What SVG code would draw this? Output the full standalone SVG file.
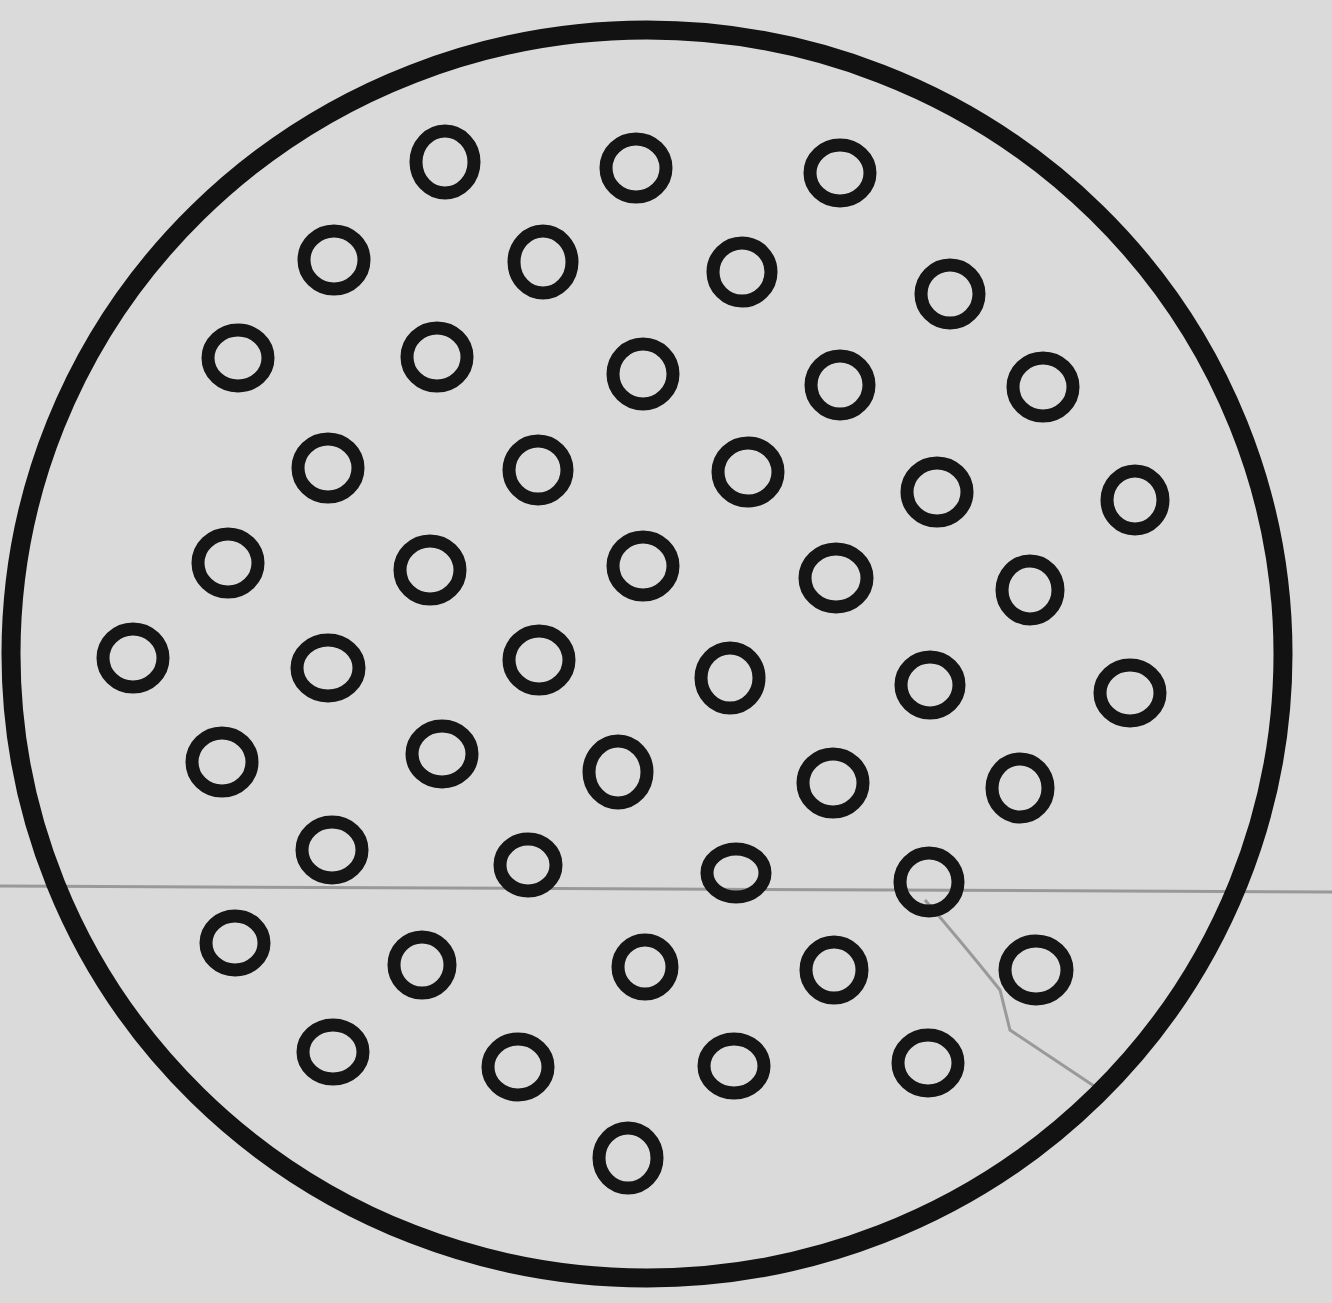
<svg xmlns="http://www.w3.org/2000/svg" width="1332" height="1303" viewBox="0 0 1332 1303">
<style>
.r{fill:none;stroke:#151515;stroke-width:13}
.big{fill:none;stroke:#121212;stroke-width:19}
.fold{fill:none;stroke:#6e6e6e;stroke-width:3;opacity:0.6}
</style>
<rect width="1332" height="1303" fill="#dadada"/>
<path class="fold" d="M0 886 L1332 892"/>
<path class="fold" d="M925 900 Q960 940 1000 990 L1010 1030 L1100 1090" stroke-width="2"/>
<ellipse class="big" cx="647" cy="654" rx="636" ry="624"/>
<g id="rings">
<ellipse class="r" cx="445" cy="162" rx="29" ry="31"/>
<ellipse class="r" cx="636" cy="168" rx="30" ry="29"/>
<ellipse class="r" cx="840" cy="173" rx="30" ry="28"/>
<ellipse class="r" cx="334" cy="260" rx="30" ry="29"/>
<ellipse class="r" cx="543" cy="262" rx="29" ry="31"/>
<ellipse class="r" cx="742" cy="272" rx="29" ry="29"/>
<ellipse class="r" cx="950" cy="294" rx="29" ry="29"/>
<ellipse class="r" cx="238" cy="358" rx="30" ry="28"/>
<ellipse class="r" cx="437" cy="357" rx="30" ry="29"/>
<ellipse class="r" cx="643" cy="374" rx="30" ry="30"/>
<ellipse class="r" cx="840" cy="385" rx="29" ry="29"/>
<ellipse class="r" cx="1043" cy="387" rx="30" ry="29"/>
<ellipse class="r" cx="328" cy="468" rx="30" ry="29"/>
<ellipse class="r" cx="538" cy="470" rx="29" ry="29"/>
<ellipse class="r" cx="748" cy="472" rx="30" ry="29"/>
<ellipse class="r" cx="937" cy="492" rx="30" ry="29"/>
<ellipse class="r" cx="1135" cy="500" rx="28" ry="29"/>
<ellipse class="r" cx="228" cy="563" rx="30" ry="29"/>
<ellipse class="r" cx="430" cy="570" rx="30" ry="29"/>
<ellipse class="r" cx="643" cy="566" rx="30" ry="29"/>
<ellipse class="r" cx="836" cy="578" rx="31" ry="29"/>
<ellipse class="r" cx="1030" cy="590" rx="28" ry="29"/>
<ellipse class="r" cx="133" cy="658" rx="30" ry="29"/>
<ellipse class="r" cx="328" cy="668" rx="31" ry="28"/>
<ellipse class="r" cx="539" cy="660" rx="30" ry="29"/>
<ellipse class="r" cx="730" cy="678" rx="29" ry="30"/>
<ellipse class="r" cx="930" cy="685" rx="29" ry="28"/>
<ellipse class="r" cx="1130" cy="693" rx="30" ry="28"/>
<ellipse class="r" cx="222" cy="762" rx="30" ry="29"/>
<ellipse class="r" cx="442" cy="754" rx="30" ry="28"/>
<ellipse class="r" cx="618" cy="772" rx="29" ry="31"/>
<ellipse class="r" cx="833" cy="783" rx="30" ry="29"/>
<ellipse class="r" cx="1020" cy="788" rx="28" ry="29"/>
<ellipse class="r" cx="332" cy="850" rx="30" ry="28"/>
<ellipse class="r" cx="528" cy="865" rx="28" ry="26"/>
<ellipse class="r" cx="736" cy="873" rx="29" ry="24"/>
<ellipse class="r" cx="929" cy="882" rx="29" ry="29"/>
<ellipse class="r" cx="235" cy="943" rx="29" ry="27"/>
<ellipse class="r" cx="422" cy="965" rx="28" ry="28"/>
<ellipse class="r" cx="645" cy="967" rx="27" ry="27"/>
<ellipse class="r" cx="834" cy="970" rx="28" ry="28"/>
<ellipse class="r" cx="1036" cy="970" rx="31" ry="29"/>
<ellipse class="r" cx="333" cy="1052" rx="30" ry="27"/>
<ellipse class="r" cx="518" cy="1067" rx="30" ry="28"/>
<ellipse class="r" cx="734" cy="1066" rx="30" ry="27"/>
<ellipse class="r" cx="928" cy="1063" rx="30" ry="28"/>
<ellipse class="r" cx="628" cy="1158" rx="29" ry="30"/>
</g>
</svg>
